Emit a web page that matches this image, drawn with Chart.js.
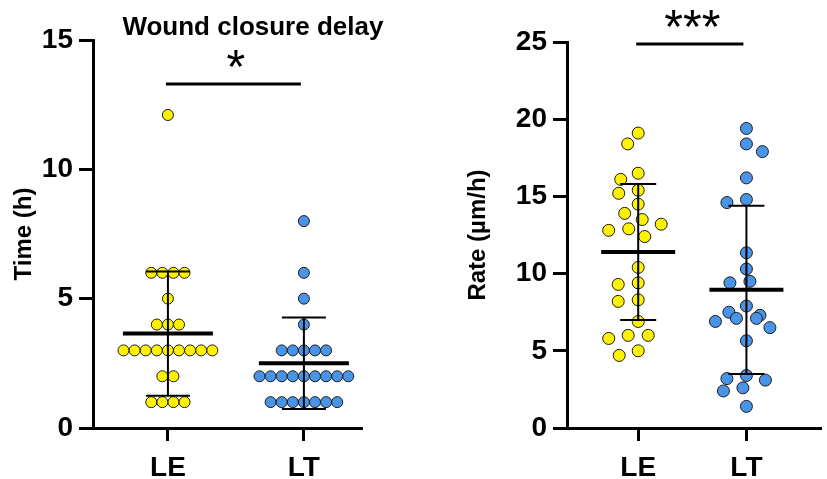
<!DOCTYPE html>
<html>
<head>
<meta charset="utf-8">
<script src="https://cdn.jsdelivr.net/npm/chart.js@4.4.1/dist/chart.umd.min.js"></script>
<style>
  body { margin: 0; background: #fff; }
  #wrap { position: relative; width: 827px; height: 479px; }
  .box { position: absolute; top: 0; height: 479px; }
</style>
</head>
<body>
<div id="wrap">
  <div class="box" style="left:0;width:400px"><canvas id="timeChart" width="400" height="479"></canvas></div>
  <div class="box" style="left:420px;width:407px"><canvas id="rateChart" width="407" height="479"></canvas></div>
</div>
<script>
// ********** DATA ***********
const groups = ['LE', 'LT'];

// left panel - wound closure delay (h)
const timeLE = [12.1, 6, 6, 6, 6, 5, 4, 4, 4, 3, 3, 3, 3, 3, 3, 3, 3, 3, 2, 2, 1, 1, 1, 1];
const timeLT = [8, 6, 5, 4, 3, 3, 3, 3, 3, 2, 2, 2, 2, 2, 2, 2, 2, 2, 1, 1, 1, 1, 1, 1, 1];
const timeMean = [3.65, 2.5];
const timeSD = [2.4, 1.77];
const timeTicks = [0, 5, 10, 15];

// right panel - rate (um/h)
const rateLE = [19.1, 18.4, 16.5, 16.1, 15.4, 15.2, 14.5, 13.9, 13.5, 13.2, 12.9, 12.8, 12.4,
  10.4, 9.4, 9.3, 8.3, 8.2, 6.9, 6.0, 6.0, 5.8, 5.0, 4.7];
const rateLT = [19.4, 18.4, 17.9, 16.2, 14.8, 14.6, 11.35, 10.3, 9.5, 9.4, 7.9, 7.5, 7.3, 7.1,
  7.1, 6.9, 6.5, 5.65, 3.4, 3.2, 3.1, 2.6, 2.4, 1.4];
const rateMean = [11.4, 8.95];
const rateSD = [4.4, 5.45];
const rateTicks = [0, 5, 10, 15, 20, 25];

const sigLabels = ['*', '***'];
const sigLevel = [13.3, 24.87];

// ********** STYLE ***********
const FONT = '"Liberation Sans", Arial, sans-serif';
const yellow = '#FFF200';
const blue = '#4A94E8';

// ********** HELPERS ***********
// beeswarm: rows of equal values side by side, single points pushed sideways
// until they clear the others (ellipse: wider gap sideways than up/down)
function swarm(ys, gapX, gapY) {
  const offs = new Array(ys.length).fill(0);
  const placed = [];
  const rows = {};
  ys.forEach((py, k) => { (rows[py] = rows[py] || []).push(k); });
  Object.keys(rows).map(Number).sort((a, b) => a - b).forEach(py => {
    const ks = rows[py];
    if (ks.length > 1) {
      ks.forEach((k, j) => {
        offs[k] = (j - (ks.length - 1) / 2) * gapX;
        placed.push([offs[k], py]);
      });
      return;
    }
    const k = ks[0];
    let best = 0;
    for (let d = 0; d < 120; d += 0.5) {
      const order = k % 2 ? [-d, d] : [d, -d];
      const c = order.find(c => placed.every(([px, qy]) =>
        Math.pow((px - c) / gapX, 2) + Math.pow((qy - py) / gapY, 2) >= 1));
      if (c !== undefined) { best = c; break; }
    }
    offs[k] = best;
    placed.push([best, py]);
  });
  return offs;
}

function placePoints(chart, lists, gapX, gapY) {
  const x = chart.scales.x, y = chart.scales.y;
  const pxPerX = x.getPixelForValue(2) - x.getPixelForValue(1);
  lists.forEach((vals, i) => {
    const offs = swarm(vals.map(v => y.getPixelForValue(v)), gapX, gapY);
    chart.data.datasets[i].data = vals.map((v, k) => ({ x: i + 1 + offs[k] / pxPerX, y: v }));
  });
  chart.update('none');
}

// mean +/- SD lines, drawn over the points, plus the significance bar
const summaryPlugin = {
  id: 'summary',
  afterDatasetsDraw(chart, args, opts) {
    const { ctx, scales: { x, y } } = chart;
    ctx.save();
    ctx.strokeStyle = '#000';
    opts.means.forEach((m, i) => {
      const cx = x.getPixelForValue(i + 1);
      const top = y.getPixelForValue(m + opts.sds[i]);
      const bot = y.getPixelForValue(Math.max(0, m - opts.sds[i]));
      const my = y.getPixelForValue(m);
      ctx.lineWidth = 2;
      ctx.beginPath();
      ctx.moveTo(cx, top); ctx.lineTo(cx, bot);
      ctx.moveTo(cx - opts.cap, top); ctx.lineTo(cx + opts.cap, top);
      ctx.moveTo(cx - opts.cap, bot); ctx.lineTo(cx + opts.cap, bot);
      ctx.stroke();
      ctx.lineWidth = 4;
      ctx.beginPath();
      ctx.moveTo(cx - opts.meanHalf, my); ctx.lineTo(cx + opts.meanHalf, my);
      ctx.stroke();
    });
    // significance
    const sy = y.getPixelForValue(opts.sigY);
    const x1 = x.getPixelForValue(1), x2 = x.getPixelForValue(2);
    ctx.lineWidth = 3;
    ctx.beginPath();
    ctx.moveTo(x1 - 2, sy); ctx.lineTo(x2 - 3, sy);
    ctx.stroke();
    ctx.fillStyle = '#000';
    ctx.font = '48px ' + FONT;
    ctx.textAlign = 'center';
    ctx.textBaseline = 'alphabetic';
    ctx.fillText(opts.sig, (x1 + x2) / 2, sy - 1);
    if (opts.title) {
      ctx.font = 'bold 26px ' + FONT;
      ctx.textBaseline = 'middle';
      ctx.fillText(opts.title, x.getPixelForValue(opts.titleX), 28);
    }
    ctx.restore();
  }
};

function makeChart(id, lists, colors, opts) {
  const chart = new Chart(document.getElementById(id), {
    type: 'scatter',
    data: {
      datasets: lists.map((vals, i) => ({
        label: groups[i],
        data: vals.map(v => ({ x: i + 1, y: v })),
        backgroundColor: colors[i],
        borderColor: '#1b1b1b',
        borderWidth: 1,
        pointRadius: opts.radius,
        clip: false
      }))
    },
    options: {
      responsive: false,
      animation: false,
      events: [],
      layout: { padding: { left: 0, top: opts.top, right: opts.right, bottom: 0 } },
      plugins: {
        legend: { display: false },
        tooltip: { enabled: false },
        summary: opts.summary
      },
      scales: {
        x: {
          type: 'linear',
          min: opts.xMin,
          max: opts.xMax,
          afterBuildTicks: s => { s.ticks = groups.map((g, i) => ({ value: i + 1 })); },
          afterFit: s => { s.height = 51; },
          ticks: {
            callback: v => groups[Math.round(v) - 1],
            color: '#000',
            font: { family: FONT, size: 28, weight: 'bold' },
            padding: 10,
            maxRotation: 0,
            autoSkip: false
          },
          grid: { drawOnChartArea: false, drawTicks: true, tickLength: 13, lineWidth: 3, color: '#000' },
          border: { display: true, width: 3, color: '#000' }
        },
        y: {
          min: opts.yTicks[0],
          max: opts.yTicks[opts.yTicks.length - 1],
          afterBuildTicks: s => { s.ticks = opts.yTicks.map(v => ({ value: v })); },
          afterFit: s => { s.width = opts.yWidth; },
          ticks: {
            color: '#000',
            font: { family: FONT, size: 28, weight: 'bold' },
            padding: 6
          },
          grid: { drawOnChartArea: false, drawTicks: true, tickLength: 14, lineWidth: 3, color: '#000' },
          border: { display: true, width: 3, color: '#000' },
          title: {
            display: true,
            text: opts.yTitle,
            color: '#000',
            font: { family: FONT, size: 24, weight: 'bold' },
            padding: { top: opts.titlePad, bottom: 0 }
          }
        }
      }
    },
    plugins: [summaryPlugin]
  });
  placePoints(chart, lists, opts.gapX, opts.gapY);
  return chart;
}

// ********** CHARTS ***********
makeChart('timeChart', [timeLE, timeLT], [yellow, blue], {
  radius: 5.5, gapX: 11.1, gapY: 11.1, top: 40, right: 39, xMin: 0.449, xMax: 2.42,
  yTicks: timeTicks, yWidth: 93, yTitle: 'Time (h)', titlePad: 10,
  summary: { means: timeMean, sds: timeSD, cap: 22, meanHalf: 45, sigY: sigLevel[0], sig: sigLabels[0],
    title: 'Wound closure delay', titleX: 1.625 }
});

makeChart('rateChart', [rateLE, rateLT], [yellow, blue], {
  radius: 6, gapX: 20, gapY: 12.5, top: 42, right: 0, xMin: 0.342, xMax: 2.68,
  yTicks: rateTicks, yWidth: 147, yTitle: 'Rate (µm/h)', titlePad: 44,
  summary: { means: rateMean, sds: rateSD, cap: 18, meanHalf: 37, sigY: sigLevel[1], sig: sigLabels[1] }
});
</script>
</body>
</html>
